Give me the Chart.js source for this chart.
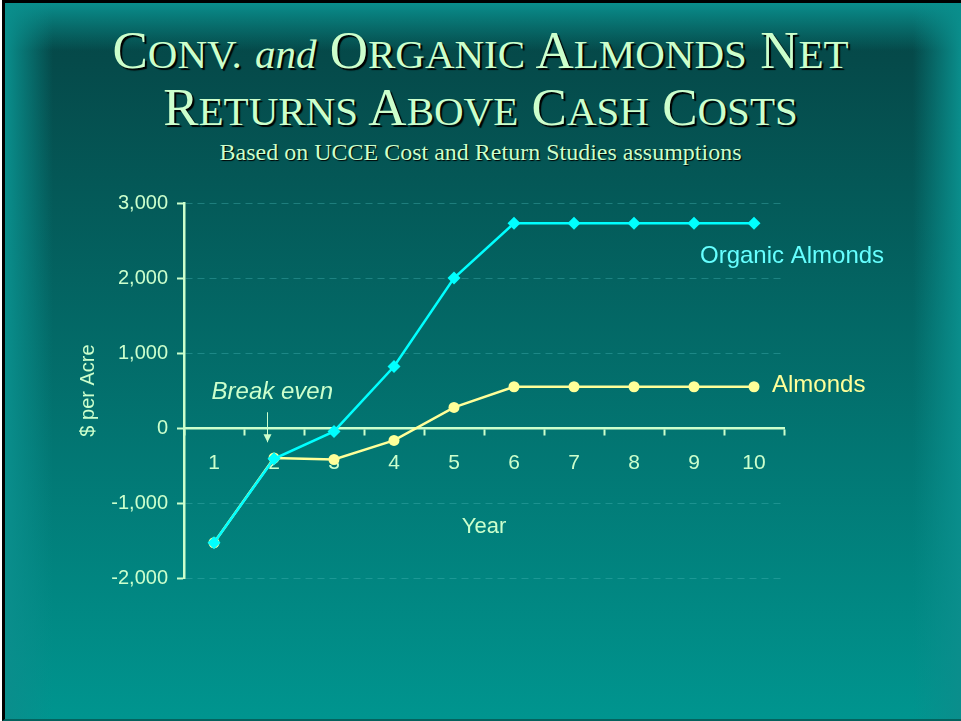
<!DOCTYPE html>
<html>
<head>
<meta charset="utf-8">
<script src="https://cdn.jsdelivr.net/npm/chart.js@4.4.1/dist/chart.umd.min.js"></script>
<style>
  html, body { margin: 0; padding: 0; background: #fff; width: 961px; height: 721px; overflow: hidden; }
  #slide {
    position: absolute; left: 2px; top: 0; width: 956px; height: 716px;
    border-top: 3px solid #000; border-left: 3px solid #000; border-bottom: 2px solid #05625e;
    background: linear-gradient(to bottom, #044646 0%, #054a4a 8%, #00958f 100%);
    overflow: hidden;
  }
  .edge { position: absolute; }
  #edgeTop { left: 0; top: 0; width: 100%; height: 48px; background: linear-gradient(to bottom, #0a8e8c, rgba(10,142,140,0)); }
  #edgeLeft { left: 0; top: 0; width: 48px; height: 100%; background: linear-gradient(to right, #0a8e8c, rgba(10,142,140,0)); }
  #edgeRight { right: 0; top: 0; width: 48px; height: 100%; background: linear-gradient(to left, #0a8e8c, rgba(10,142,140,0)); }
  .title {
    position: absolute; left: 0; width: 961px; text-align: center; white-space: nowrap;
    font-family: 'Liberation Serif', 'Times New Roman', serif; color: #ccffcc;
    text-shadow: 2px 2px 1px #000;
  }
  .big { font-size: 53px; line-height: 56px; }
  .big .sc { font-size: 41px; }
  #t1 { top: 22px; }
  #t2 { top: 79px; }
  #sub { top: 138px; font-size: 24px; line-height: 28px; text-shadow: 1px 1px 1px #000; }
  #wrap { position: absolute; left: 0; top: 0; width: 961px; height: 721px; }
</style>
</head>
<body>
<div id="slide">
  <div class="edge" id="edgeTop"></div>
  <div class="edge" id="edgeLeft"></div>
  <div class="edge" id="edgeRight"></div>
</div>
<div class="title big" id="t1">C<span class="sc">ONV.</span> <i class="sc">and</i> O<span class="sc">RGANIC</span> A<span class="sc">LMONDS</span> N<span class="sc">ET</span></div>
<div class="title big" id="t2">R<span class="sc">ETURNS</span> A<span class="sc">BOVE</span> C<span class="sc">ASH</span> C<span class="sc">OSTS</span></div>
<div class="title" id="sub">Based on UCCE Cost and Return Studies assumptions</div>
<div id="wrap"><canvas id="chart" width="961" height="721"></canvas></div>
<script>
// Chart data
const years = ['1', '2', '3', '4', '5', '6', '7', '8', '9', '10'];
const organicReturns = [-1530, -410, -45, 820, 2000, 2730, 2730, 2730, 2730, 2730];
const almondReturns = [-1530, -400, -420, -165, 275, 550, 550, 550, 550, 550];
const yTicks = [-2000, -1000, 0, 1000, 2000, 3000];

const pale = '#ccffcc';
const organicColor = '#00ffff';
const almondColor = '#ffff99';
const gridDash = 'rgba(70, 180, 180, 0.4)';
const sans = "'Liberation Sans', Arial, sans-serif";

// Text placed next to the lines, anchored in data units (category index, $ value)
const lineNotes = [
  { text: 'Organic Almonds', x: 8.1, y: 2290, color: '#66ffff' },
  { text: 'Almonds', x: 9.3, y: 570, color: almondColor }
];
const breakEven = { text: 'Break even', x: -0.04, y: 480, arrowX: 0.88, arrowTop: 210, arrowBottom: -190 };

Chart.defaults.font.family = sans;

// Draws the line labels and the break even note
const notesPlugin = {
  id: 'notes',
  afterDraw(chart) {
    const ctx = chart.ctx;
    const xs = chart.scales.x;
    const ys = chart.scales.y;
    ctx.save();
    ctx.textBaseline = 'middle';
    ctx.textAlign = 'left';
    ctx.font = '24px ' + sans;
    lineNotes.forEach(n => {
      ctx.fillStyle = n.color;
      ctx.fillText(n.text, xs.getPixelForValue(n.x), ys.getPixelForValue(n.y));
    });

    ctx.font = 'italic 24px ' + sans;
    ctx.fillStyle = pale;
    ctx.fillText(breakEven.text, xs.getPixelForValue(breakEven.x), ys.getPixelForValue(breakEven.y));

    // arrow
    const ax = Math.round(xs.getPixelForValue(breakEven.arrowX)) + 0.5;
    const y1 = ys.getPixelForValue(breakEven.arrowTop);
    const y2 = ys.getPixelForValue(breakEven.arrowBottom);
    ctx.strokeStyle = pale;
    ctx.lineWidth = 1;
    ctx.beginPath();
    ctx.moveTo(ax, y1);
    ctx.lineTo(ax, y2);
    ctx.stroke();
    ctx.beginPath();
    ctx.moveTo(ax - 4, y2 - 8);
    ctx.lineTo(ax, y2);
    ctx.lineTo(ax + 4, y2 - 8);
    ctx.closePath();
    ctx.fill();
    ctx.restore();
  }
};

const chart = new Chart(document.getElementById('chart'), {
  type: 'line',
  data: {
    labels: years,
    datasets: [{
      label: 'Organic Almonds',
      data: organicReturns,
      borderColor: organicColor,
      backgroundColor: organicColor,
      borderWidth: 2.5,
      pointStyle: 'rectRot',
      pointRadius: 6.5,
      pointBorderWidth: 0,
      tension: 0
    }, {
      label: 'Almonds',
      data: almondReturns,
      borderColor: almondColor,
      backgroundColor: almondColor,
      borderWidth: 2.5,
      pointStyle: 'circle',
      pointRadius: 5.5,
      pointBorderWidth: 0,
      tension: 0
    }]
  },
  options: {
    responsive: false,
    devicePixelRatio: 1,
    animation: false,
    layout: {
      padding: { left: 76, top: 203, right: 177, bottom: 143 }
    },
    plugins: {
      legend: { display: false },
      tooltip: { enabled: false }
    },
    scales: {
      x: {
        position: { y: 0 },
        offset: true,
        grid: {
          offset: true,
          drawOnChartArea: false,
          tickColor: pale,
          tickLength: 6,
          tickWidth: 2
        },
        border: { color: pale, width: 2.5 },
        ticks: {
          color: pale,
          font: { size: 21 },
          padding: 17
        },
        title: {
          display: true,
          text: 'Year',
          color: pale,
          font: { size: 22 },
          padding: { top: 21, bottom: 0 }
        }
      },
      y: {
        min: -2000,
        max: 3000,
        afterBuildTicks: scale => {
          scale.ticks = yTicks.map(v => ({ value: v }));
        },
        afterFit: scale => {
          scale.width = 108;
        },
        ticks: {
          color: pale,
          font: { size: 20 },
          padding: 9,
          callback: v => v.toLocaleString('en-US')
        },
        grid: {
          color: ctx => (ctx.tick && ctx.tick.value === 0) ? 'rgba(0,0,0,0)' : gridDash,
          lineWidth: 1,
          tickColor: pale,
          tickLength: 7,
          tickWidth: 2
        },
        border: { color: pale, width: 2.5, dash: [7, 5] },
        title: {
          display: true,
          text: '$ per Acre',
          color: pale,
          font: { size: 20 },
          padding: { top: 0, bottom: 0 }
        }
      }
    }
  },
  plugins: [notesPlugin]
});
</script>
</body>
</html>
